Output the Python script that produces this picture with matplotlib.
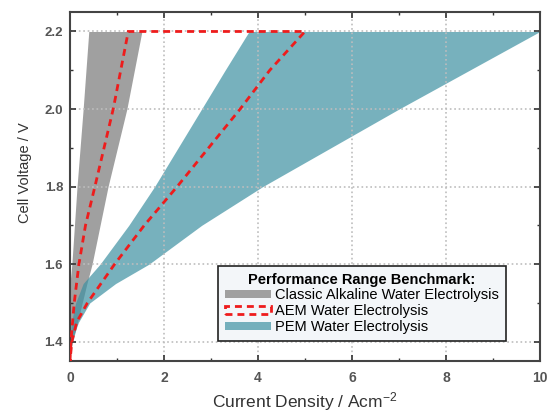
import numpy as np
import matplotlib
matplotlib.use('Agg')
from matplotlib import pyplot as plt

plt.rcParams['font.family'] = ['Liberation Sans', 'DejaVu Sans']
plt.rcParams['mathtext.default'] = 'regular'

#Classic alkaline band (voltage, low and high current edge)
alk_v = [1.37, 1.40, 1.50, 1.55, 1.60, 1.80, 2.00, 2.20]
alk_lo = [0.0, 0.0, 0.0, 0.0, 0.04, 0.15, 0.28, 0.40]
alk_hi = [0.0, 0.06, 0.26, 0.36, 0.47, 0.81, 1.21, 1.53]

#PEM band
pem_v = [1.39, 1.45, 1.50, 1.55, 1.60, 1.70, 1.80, 1.90, 2.00, 2.10, 2.20]
pem_lo = [0.0, 0.03, 0.12, 0.28, 0.64, 1.25, 1.80, 2.30, 2.80, 3.30, 3.81]
pem_hi = [0.0, 0.18, 0.42, 0.97, 1.68, 2.80, 4.10, 5.55, 7.00, 8.50, 10.0]

#AEM range (two dashed boundaries)
aem_lo_v = [1.35, 1.40, 1.50, 1.60, 1.70, 1.80, 2.00, 2.20]
aem_lo_j = [0.0, 0.02, 0.09, 0.19, 0.33, 0.53, 0.92, 1.24]
aem_hi_v = [1.35, 1.40, 1.45, 1.50, 1.60, 1.70, 1.80, 1.90, 2.00, 2.10, 2.20]
aem_hi_j = [0.0, 0.04, 0.14, 0.37, 0.95, 1.58, 2.28, 2.95, 3.62, 4.25, 5.0]

labels = ['Classic Alkaline Water Electrolysis', 'AEM Water Electrolysis', 'PEM Water Electrolysis']
x_ticks = [0, 2, 4, 6, 8, 10]
y_ticks = [1.4, 1.6, 1.8, 2.0, 2.2]

fig = plt.figure(figsize=(5.51, 4.17), dpi=100)
ax = fig.add_axes([0.127, 0.134, 0.853, 0.837])

h1 = ax.fill_betweenx(alk_v, alk_lo, alk_hi, color='#a0a0a0', lw=0, zorder=1, label=labels[0])
h3 = ax.fill_betweenx(pem_v, pem_lo, pem_hi, color='#3e91a2', alpha=0.7, lw=0, zorder=1.5, label=labels[2])

aem_x = np.concatenate([aem_lo_j, aem_hi_j[::-1]])
aem_y = np.concatenate([aem_lo_v, aem_hi_v[::-1]])
h2, = ax.fill(aem_x, aem_y, fill=False, edgecolor='#ee1c1c', lw=2,
              linestyle=(0, (2.5, 1.8)), zorder=3, label=labels[1])

ax.set_xlim(0, 10)
ax.set_ylim(1.35, 2.25)
ax.set_xticks(x_ticks)
ax.set_yticks(y_ticks)
ax.set_xticks(np.arange(1, 10, 2), minor=True)
ax.set_yticks([1.5, 1.7, 1.9, 2.1], minor=True)
ax.set_xticklabels([str(t) for t in x_ticks], fontsize=10, fontweight='bold', color='#555555')
ax.set_yticklabels(['%.1f' % t for t in y_ticks], fontsize=9.5, fontweight='bold', color='#555555')
ax.tick_params(which='both', direction='in', top=True, right=True, color='#333333')
ax.tick_params(which='major', length=4, width=1.2)
ax.tick_params(which='minor', length=2.5, width=1.0)
ax.tick_params(axis='x', pad=7)
ax.tick_params(axis='y', pad=5)

for s in ax.spines.values():
    s.set_color('#444444')
    s.set_linewidth(1.5)

ax.grid(True, which='major', linestyle=':', color='#bdbdbd', lw=1.2, zorder=2)

ax.set_xlabel('Current Density / Acm$^{-2}$', fontsize=12.5, color='#333333', labelpad=4)
ax.set_ylabel('Cell Voltage / V', fontsize=10.5, color='#333333')
ax.yaxis.set_label_coords(-0.08, 0.539)

leg = ax.legend([h1, h2, h3], labels, loc='lower left', bbox_to_anchor=(0.315, 0.057),
                borderaxespad=0, fontsize=10.5, title='Performance Range Benchmark:',
                title_fontproperties={'weight': 'bold', 'size': 10.5},
                handlelength=3.1, handleheight=0.5, labelspacing=0.12,
                handletextpad=0.3, fancybox=False, framealpha=1,
                facecolor='#f3f6f9', edgecolor='#222222', borderpad=0.5)
leg.get_frame().set_linewidth(1.2)
leg._legend_box.sep = 1
leg.set_zorder(5)

fig.savefig('out.png', dpi=100)
